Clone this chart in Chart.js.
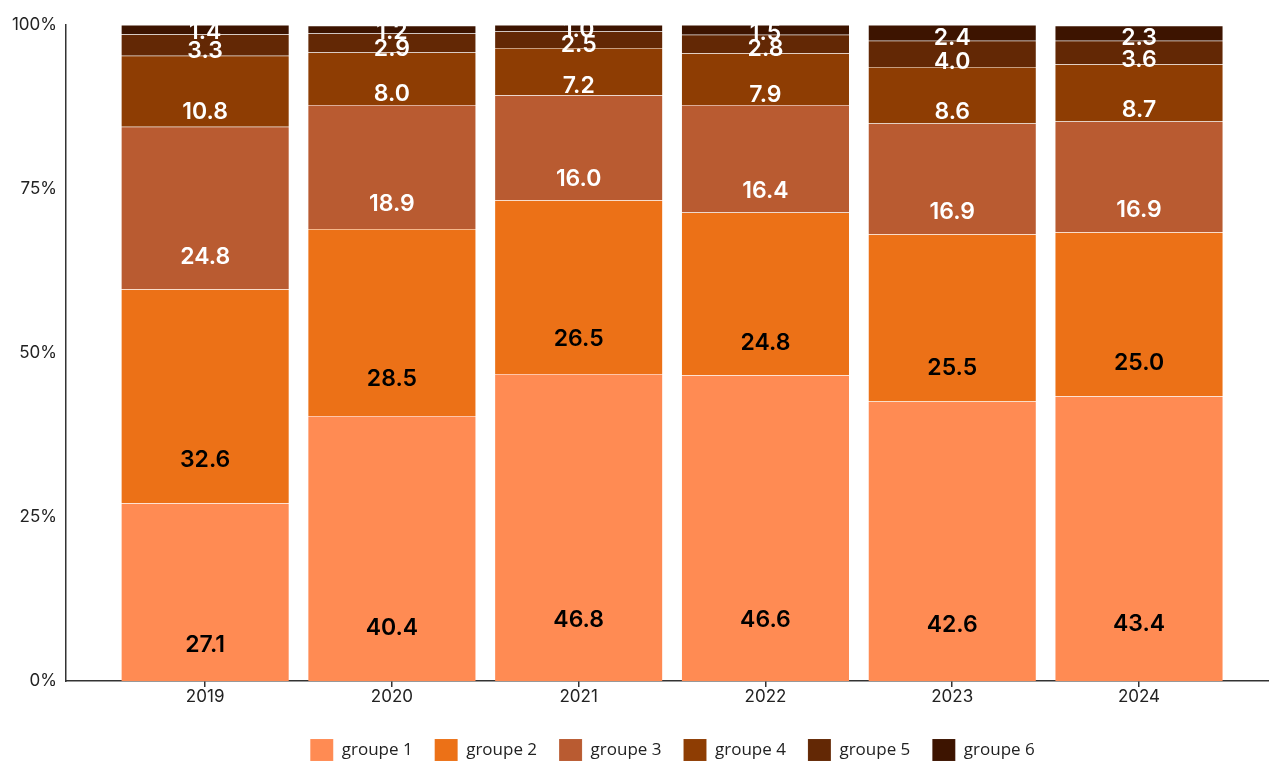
<!DOCTYPE html>
<html>
<head>
<meta charset="utf-8">
<script src="https://cdn.jsdelivr.net/npm/chart.js@4/dist/chart.umd.min.js"></script>
<style>
  html, body { margin: 0; padding: 0; background: #fff; }
  #wrap { width: 1269px; height: 762px; position: relative; }
</style>
</head>
<body>
<div id="wrap"><canvas id="chart"></canvas></div>
<script>
const years = ["2019", "2020", "2021", "2022", "2023", "2024"];
const groupNames = ["groupe 1", "groupe 2", "groupe 3", "groupe 4", "groupe 5", "groupe 6"];
const groupe1 = [27.1, 40.4, 46.8, 46.6, 42.6, 43.4];
const groupe2 = [32.6, 28.5, 26.5, 24.8, 25.5, 25.0];
const groupe3 = [24.8, 18.9, 16.0, 16.4, 16.9, 16.9];
const groupe4 = [10.8, 8.0, 7.2, 7.9, 8.6, 8.7];
const groupe5 = [3.3, 2.9, 2.5, 2.8, 4.0, 3.6];
const groupe6 = [1.4, 1.2, 1.0, 1.5, 2.4, 2.3];
const yTicks = [0, 25, 50, 75, 100];

const colors = ["#FF8B53", "#EC7117", "#B95B31", "#8E3D03", "#632805", "#3D1400"];
const labelColors = ["#000", "#000", "#fff", "#fff", "#fff", "#fff"];
const series = [groupe1, groupe2, groupe3, groupe4, groupe5, groupe6];

// labels sit at 20% of each segment, from its bottom
const barLabels = {
  id: "barLabels",
  afterDatasetsDraw(chart) {
    const ctx = chart.ctx;
    ctx.save();
    ctx.font = "600 23px Inter";
    ctx.textAlign = "center";
    ctx.textBaseline = "middle";
    chart.data.datasets.forEach((ds, i) => {
      chart.getDatasetMeta(i).data.forEach((bar, j) => {
        const y = bar.base - 0.2 * (bar.base - bar.y);
        ctx.fillStyle = labelColors[i];
        ctx.fillText(ds.data[j].toFixed(1), bar.x, y);
      });
    });
    ctx.restore();
  },
};

// legend is centred under the plot area, not the whole canvas
const legendShift = {
  id: "legendShift",
  afterLayout(chart) {
    chart.legend.left += 76;
  },
};

new Chart(document.getElementById("chart"), {
  type: "bar",
  data: {
    labels: years,
    datasets: series.map((d, i) => ({
      label: groupNames[i],
      data: d,
      backgroundColor: colors[i],
      borderColor: "rgba(255,255,255,0.15)",
      borderWidth: 0.5,
      categoryPercentage: 1,
      barPercentage: 0.9,
    })),
  },
  options: {
    responsive: true,
    maintainAspectRatio: false,
    animation: false,
    layout: { padding: { top: 25, right: 0, left: 0, bottom: -9 } },
    plugins: {
      tooltip: { enabled: false },
      legend: {
        position: "bottom",
        labels: {
          boxWidth: 23,
          boxHeight: 22,
          padding: 22,
          color: "#222",
          font: { family: "Open Sans", size: 17 },
        },
      },
    },
    scales: {
      // years as numbers so the bars can sit off-centre like the original
      x: {
        type: "linear",
        stacked: true,
        offset: false,
        min: 2018.255,
        max: 2024.696,
        border: { display: true, color: "#333", width: 1.5 },
        grid: { display: true, offset: false, drawOnChartArea: false, tickLength: 6, color: "#333", lineWidth: 1.5 },
        afterBuildTicks(scale) {
          scale.ticks = years.map((y) => ({ value: +y }));
        },
        afterFit(scale) {
          scale.height = 36;
        },
        ticks: {
          color: "#222",
          font: { family: "Inter", size: 17 },
          padding: 0,
          callback: (v) => String(v),
        },
      },
      y: {
        stacked: true,
        min: 0,
        max: 100,
        border: { display: true, color: "#333", width: 1.5 },
        grid: { display: false },
        afterBuildTicks(scale) {
          scale.ticks = yTicks.map((v) => ({ value: v }));
        },
        afterFit(scale) {
          scale.width = 66;
        },
        ticks: {
          color: "#222",
          font: { family: "Inter", size: 17 },
          padding: 1,
          callback: (v) => v + "%",
        },
      },
    },
  },
  plugins: [barLabels, legendShift],
});
</script>
</body>
</html>
